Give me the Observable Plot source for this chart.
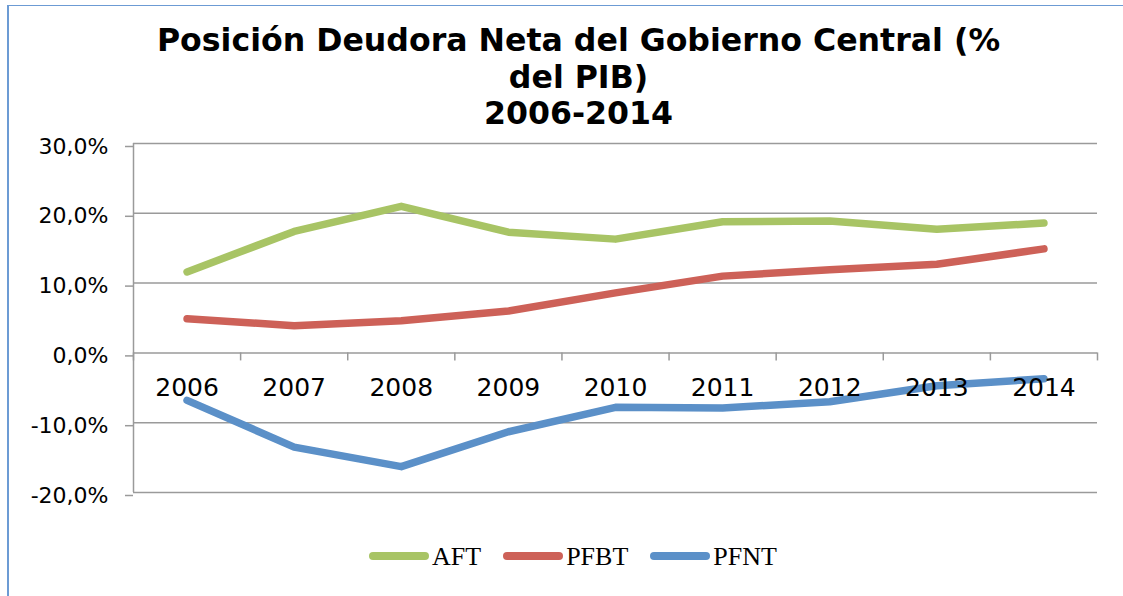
<!DOCTYPE html>
<html>
<head>
<meta charset="utf-8">
<script src="https://cdn.jsdelivr.net/npm/d3@7"></script>
<script src="https://cdn.jsdelivr.net/npm/@observablehq/plot@0.6"></script>
<style>
  html, body { margin: 0; padding: 0; background: #fff; }
  #wrap { position: relative; width: 1123px; height: 596px; overflow: hidden; background: #fff; }
  #frame { position: absolute; left: 7px; top: 5px; width: 1200px; height: 700px;
           border-left: 2px solid #6c9bd4; border-top: 1.5px solid #6c9bd4; }
  #title { position: absolute; left: 0; top: 22px; width: 1157px; text-align: center;
           font-family: "DejaVu Sans", Verdana, sans-serif; font-weight: bold; font-size: 31.6px;
           line-height: 36.5px; color: #000; }
  #chart { position: absolute; left: 0; top: 138px; }
  #legend { position: absolute; left: 369px; top: 540px; display: flex; align-items: center;
            font-family: "Liberation Serif", "Times New Roman", serif; font-size: 26px; color: #000; }
  .sw { width: 60px; height: 8px; border-radius: 4px; margin-right: 3px; }
  .lb { margin-right: 22px; line-height: 30px; padding-top: 2px; }
</style>
</head>
<body>
<div id="wrap">
  <div id="frame"></div>
  <div id="title"></div>
  <div id="chart"></div>
  <div id="legend"></div>
</div>
<script>
// ---- data ----
const titleLines = ["Posición Deudora Neta del Gobierno Central (%", "del PIB)", "2006-2014"];
const years = [2006, 2007, 2008, 2009, 2010, 2011, 2012, 2013, 2014];
const seriesNames = ["AFT", "PFBT", "PFNT"];
const aft  = [11.6, 17.4, 21.0, 17.3, 16.3, 18.8, 18.9, 17.7, 18.6];
const pfbt = [4.9, 3.9, 4.6, 6.0, 8.6, 11.0, 11.9, 12.7, 14.9];
const pfnt = [-6.8, -13.5, -16.3, -11.3, -7.8, -7.9, -7.0, -4.7, -3.7];
const seriesColors = ["#a8c465", "#cd6158", "#5b90c8"];
const yTicks = [-20, -10, 0, 10, 20, 30];

// ---- build table ----
const seriesValues = [aft, pfbt, pfnt];
const data = seriesNames.flatMap((name, s) =>
  years.map((yr, i) => ({ year: yr, series: name, value: seriesValues[s][i] })));
const boundaries = d3.range(years.length + 1).map(i => years[0] - 0.5 + i);
const fmt = d => d.toFixed(1).replace(".", ",") + "%";

document.getElementById("title").innerHTML = titleLines.map(t => `<div>${t}</div>`).join("");

const grid = "#9a9a9a";
const chart = Plot.plot({
  width: 1123,
  height: 385,
  marginTop: 5,
  marginBottom: 31,
  marginLeft: 133,
  marginRight: 26,
  style: { fontFamily: "DejaVu Sans, Verdana, sans-serif", background: "transparent", overflow: "visible", color: "#000" },
  x: { domain: [boundaries[0], boundaries[boundaries.length - 1]], axis: null },
  y: { domain: [yTicks[0], yTicks[yTicks.length - 1]], axis: null },
  color: { domain: seriesNames, range: seriesColors },
  marks: [
    Plot.gridY(yTicks, { stroke: grid, strokeOpacity: 1, strokeWidth: 1.5 }),
    Plot.axisY({ ticks: yTicks, tickSize: 8, tickPadding: 17, tickFormat: fmt, fontSize: 22,
                 stroke: grid, strokeWidth: 1.5, fill: "#000", label: null, dy: 3 }),
    Plot.ruleX([boundaries[0]], { stroke: grid, strokeWidth: 1.5 }),
    Plot.ruleX(boundaries, { y1: 0, y2: -1.15, stroke: grid, strokeWidth: 1.5 }),
    Plot.line(data, { x: "year", y: "value", stroke: "series", strokeWidth: 7.5,
                      strokeLinecap: "round", strokeLinejoin: "round" }),
    Plot.text(years, { x: d => d, y: () => 0, text: d => String(d), dy: 35, fontSize: 25, fill: "#000" })
  ]
});
document.getElementById("chart").appendChild(chart);

document.getElementById("legend").innerHTML = seriesNames.map((n, i) =>
  `<div class="sw" style="background:${seriesColors[i]}"></div><div class="lb">${n}</div>`).join("");
</script>
</body>
</html>
